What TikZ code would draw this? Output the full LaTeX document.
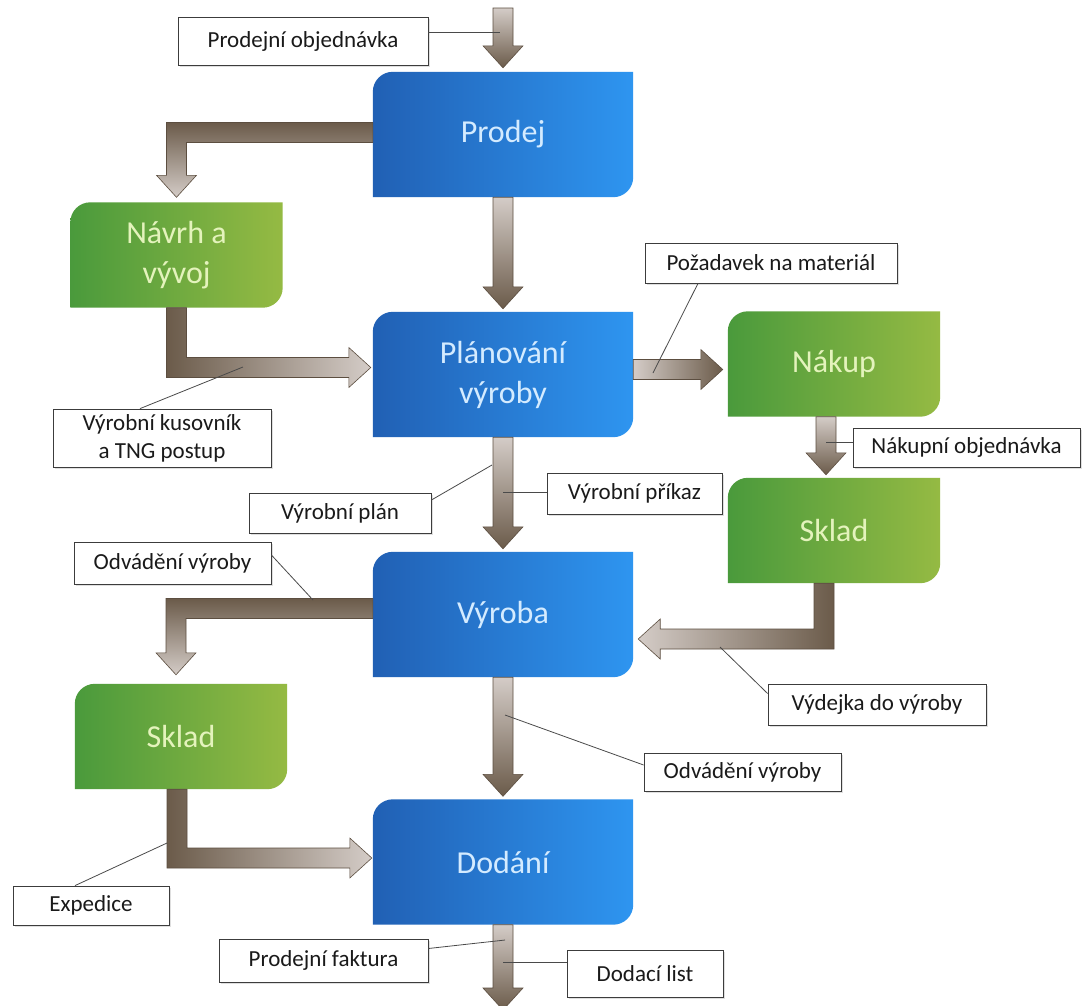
\documentclass[tikz,border=0pt]{standalone}
\usepackage{fontspec}
\setmainfont{Carlito}
\usetikzlibrary{calc,backgrounds,shadows}
\definecolor{PBlueDark}{HTML}{2160B4}
\definecolor{PBlueLight}{HTML}{2E95F0}
\definecolor{PGreenDark}{HTML}{4A9A3C}
\definecolor{PGreenLight}{HTML}{95BA43}
\definecolor{PTxtBlue}{HTML}{D4EBFF}
\definecolor{PTxtGreen}{HTML}{E4F3BC}
\definecolor{PArrDark}{HTML}{6B5B4A}
\definecolor{PArrLight}{HTML}{D4CCC7}
\definecolor{PArrLine}{HTML}{5C4E40}
\definecolor{PNoteLine}{HTML}{3C3C3C}
\definecolor{PNoteText}{HTML}{1A1A1A}
\definecolor{PLead}{HTML}{4A4A4A}

\def\bw{10}
\def\hw{20}
\def\hl{22}
\newcommand\roundbox[2]{\shade[#2] (#1.south west) -- ([yshift=-20pt]#1.north west) arc[start angle=180, end angle=90, radius=20pt] -- (#1.north east) -- ([yshift=20pt]#1.south east) arc[start angle=0, end angle=-90, radius=20pt] -- cycle;}
\newcommand\fatdown[3]{\shadedraw[#3] ($(#1)+(-\bw,0)$) -- ($(#2)+(-\bw,-\hl)$) -- ($(#2)+(-\hw,-\hl)$) -- (#2) -- ($(#2)+(\hw,-\hl)$) -- ($(#2)+(\bw,-\hl)$) -- ($(#1)+(\bw,0)$) -- cycle;}
\newcommand\fatright[3]{\shadedraw[#3] ($(#1)+(0,-\bw)$) -- ($(#2)+(-\hl,-\bw)$) -- ($(#2)+(-\hl,-\hw)$) -- (#2) -- ($(#2)+(-\hl,\hw)$) -- ($(#2)+(-\hl,\bw)$) -- ($(#1)+(0,\bw)$) -- cycle;}
\newcommand\fatleftdown[3]{\coordinate (elb) at (#2 |- #1);
  \shadedraw[#3] ($(#1)+(0,-\bw)$) -- ($(elb)+(-\bw,-\bw)$) -- ($(#2)+(-\bw,-\hl)$) -- ($(#2)+(-\hw,-\hl)$) -- (#2) -- ($(#2)+(\hw,-\hl)$) -- ($(#2)+(\bw,-\hl)$) -- ($(elb)+(\bw,\bw)$) -- ($(#1)+(0,\bw)$) -- cycle;}
\newcommand\fatdownright[3]{\coordinate (elb) at (#1 |- #2);
  \shadedraw[#3] ($(#1)+(-\bw,0)$) -- ($(elb)+(-\bw,\bw)$) -- ($(#2)+(-\hl,\bw)$) -- ($(#2)+(-\hl,\hw)$) -- (#2) -- ($(#2)+(-\hl,-\hw)$) -- ($(#2)+(-\hl,-\bw)$) -- ($(elb)+(\bw,-\bw)$) -- ($(#1)+(\bw,0)$) -- cycle;}
\newcommand\fatdownleft[3]{\coordinate (elb) at (#1 |- #2);
  \shadedraw[#3] ($(#1)+(\bw,0)$) -- ($(elb)+(\bw,\bw)$) -- ($(#2)+(\hl,\bw)$) -- ($(#2)+(\hl,\hw)$) -- (#2) -- ($(#2)+(\hl,-\hw)$) -- ($(#2)+(\hl,-\bw)$) -- ($(elb)+(-\bw,-\bw)$) -- ($(#1)+(-\bw,0)$) -- cycle;}

\begin{document}
\begin{tikzpicture}[x=1pt, y=-1pt,
  proc/.style={minimum width=260pt, minimum height=125pt, align=center, font=\fontsize{32}{40}\selectfont, text=PTxtBlue},
  dept/.style={minimum width=212pt, minimum height=105pt, align=center, font=\fontsize{32}{40}\selectfont, text=PTxtGreen},
  note/.style={draw=PNoteLine, line width=0.8pt, fill=white, inner sep=0pt, align=center, font=\fontsize{23}{28}\selectfont, text=PNoteText, drop shadow={shadow xshift=2pt, shadow yshift=-2pt, opacity=0.25}},
  lead/.style={draw=PLead, line width=0.8pt},
  bluefill/.style={left color=PBlueDark, right color=PBlueLight},
  greenfill/.style={left color=PGreenDark, right color=PGreenLight},
  arrv/.style={top color=PArrLight, bottom color=PArrDark, draw=PArrLine, line width=0.6pt},
  arrh/.style={left color=PArrLight, right color=PArrDark, draw=PArrLine, line width=0.6pt},
  arrdown/.style={top color=PArrDark, bottom color=PArrLight, draw=PArrLine, line width=0.6pt},
  arrout/.style={left color=PArrDark, right color=PArrLight, draw=PArrLine, line width=0.6pt}
]
\useasboundingbox (0,0) rectangle (1087,1005);
\node[proc] (prodej) at (503,134.5) {Prodej};
\node[proc] (plan) at (503,374.5) {Plánování\\výroby};
\node[proc] (vyroba) at (503,614.5) {Výroba};
\node[proc] (dodani) at (503,862) {Dodání};
\node[dept] (navrh) at (176.5,255) {Návrh a\\vývoj};
\node[dept] (nakup) at (834,364) {Nákup};
\node[dept] (skladr) at (834,530.5) {Sklad};
\node[dept] (skladl) at (181,736.5) {Sklad};
\begin{scope}[on background layer]
\fill[white] (0,0) rectangle (1087,1005);
\roundbox{prodej}{bluefill}
\roundbox{plan}{bluefill}
\roundbox{vyroba}{bluefill}
\roundbox{dodani}{bluefill}
\roundbox{navrh}{greenfill}
\roundbox{nakup}{greenfill}
\roundbox{skladr}{greenfill}
\roundbox{skladl}{greenfill}
\end{scope}
\coordinate (in) at (503,8);
\coordinate (out) at (503,1010);
\coordinate (t1) at ([yshift=4pt]prodej.north);
\coordinate (t2) at ([yshift=3pt]plan.north);
\coordinate (t3) at ([yshift=3pt]vyroba.north);
\coordinate (t4) at ([yshift=3pt]dodani.north);
\coordinate (s5) at ([yshift=2pt]prodej.west);
\coordinate (t5) at ([yshift=5pt]navrh.north);
\coordinate (t6) at ([shift={(-2pt,7pt)}]plan.west);
\coordinate (s7) at ([yshift=5pt]plan.east);
\coordinate (t7) at ($(nakup.west)+(-5,5.5)$);
\coordinate (s8) at ([xshift=-8pt]nakup.south);
\coordinate (t8) at ([shift={(-8pt,3pt)}]skladr.north);
\coordinate (s9) at ([xshift=-10pt]skladr.south);
\coordinate (t9) at ([shift={(5pt,-24.5pt)}]vyroba.east);
\coordinate (s10) at ([yshift=6pt]vyroba.west);
\coordinate (t10) at ([shift={(-5pt,9pt)}]skladl.north);
\coordinate (s11) at ([xshift=-4pt]skladl.south);
\coordinate (t11) at ([shift={(-1pt,4pt)}]dodani.west);
\fatdown{in}{t1}{arrv}
\fatdown{prodej.south}{t2}{arrv}
\fatdown{plan.south}{t3}{arrv}
\fatdown{vyroba.south}{t4}{arrv}
\fatdown{dodani.south}{out}{arrv}
\fatdown{s8}{t8}{arrv}
\fatright{s7}{t7}{arrh}
\fatleftdown{s5}{t5}{arrdown}
\fatleftdown{s10}{t10}{arrdown}
\fatdownright{navrh.south}{t6}{arrout}
\fatdownright{s11}{t11}{arrout}
\fatdownleft{s9}{t9}{arrh}
\node[note, minimum width=250pt, minimum height=48pt] (lobj) at (303,41) {Prodejní objednávka};
\node[note, minimum width=218pt, minimum height=58pt] (lkus) at (162,438) {Výrobní kusovník\\a TNG postup};
\node[note, minimum width=252pt, minimum height=40pt] (lpoz) at (771,263) {Požadavek na materiál};
\node[note, minimum width=227pt, minimum height=39pt] (lnak) at (966.5,447.5) {Nákupní objednávka};
\node[note, minimum width=175pt, minimum height=41pt] (lpri) at (634.5,493.5) {Výrobní příkaz};
\node[note, minimum width=182pt, minimum height=40pt] (lplan) at (340,513) {Výrobní plán};
\node[note, minimum width=197pt, minimum height=42pt] (lodv1) at (172.5,563) {Odvádění výroby};
\node[note, minimum width=218pt, minimum height=41pt] (lvyd) at (877,704.5) {Výdejka do výroby};
\node[note, minimum width=197pt, minimum height=38pt] (lodv2) at (742.5,772) {Odvádění výroby};
\node[note, minimum width=156pt, minimum height=39pt] (lexp) at (91,905.5) {Expedice};
\node[note, minimum width=209pt, minimum height=43pt] (lfak) at (323.5,960.5) {Prodejní faktura};
\node[note, minimum width=156pt, minimum height=47pt] (ldod) at (645,973.5) {Dodací list};
\coordinate (p1) at (500,32);
\coordinate (p2) at (243,367);
\coordinate (p3) at (653,373);
\coordinate (p4) at (826,442);
\coordinate (p5) at (503,492);
\coordinate (p6) at (492,465);
\coordinate (p7) at (313,600);
\coordinate (p8) at (720,647);
\coordinate (p9) at (505,715);
\coordinate (p10) at (167,843);
\coordinate (p11) at (505,940);
\coordinate (p12) at (503,962);
\draw[lead] (lobj.east |- p1) -- (p1);
\draw[lead] ([xshift=-22pt]lkus.north) -- (p2);
\draw[lead] ([xshift=-73pt]lpoz.south) -- (p3);
\draw[lead] (lnak.west |- p4) -- (p4);
\draw[lead] (lpri.west |- p5) -- (p5);
\draw[lead] ([yshift=13pt]lplan.east) -- (p6);
\draw[lead] ([yshift=8pt]lodv1.east) -- (p7);
\draw[lead] ([yshift=11pt]lvyd.west) -- (p8);
\draw[lead] ([yshift=7pt]lodv2.west) -- (p9);
\draw[lead] ([xshift=-16pt]lexp.north) -- (p10);
\draw[lead] ([yshift=12pt]lfak.east) -- (p11);
\draw[lead] (ldod.west |- p12) -- (p12);
\end{tikzpicture}
\end{document}
